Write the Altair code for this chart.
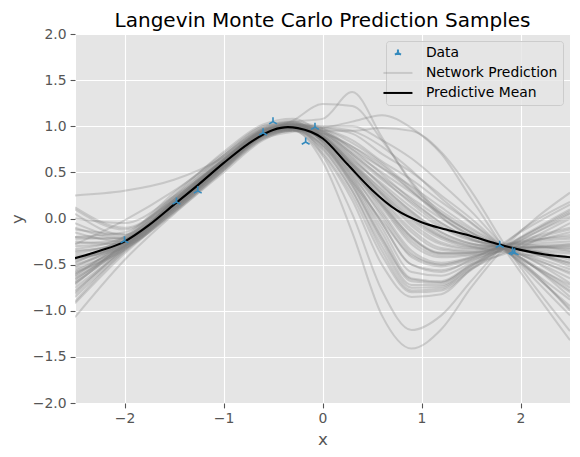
import altair as alt
import pandas as pd

# ---------------- data ----------------
data_x = [-2.0, -1.475, -1.26, -0.60, -0.50, -0.17, -0.076, 1.79, 1.92, 1.94]
data_y = [-0.24, 0.18, 0.30, 0.93, 1.05, 0.83, 0.99, -0.29, -0.36, -0.37]

mean_x = [-2.5, -2.25, -2.0, -1.75, -1.5, -1.25, -1.0, -0.75, -0.5, -0.35, -0.25,
          0.0, 0.25, 0.5, 0.75, 1.0, 1.25, 1.5, 1.75, 2.0, 2.25, 2.5]
mean_y = [-0.43, -0.35, -0.25, -0.07, 0.15, 0.37, 0.60, 0.81, 0.96, 0.99, 0.98,
          0.87, 0.59, 0.31, 0.09, -0.04, -0.12, -0.19, -0.27, -0.34, -0.39, -0.42]

sample_x = [-2.5, -2.0, -1.5, -1.0, -0.6, -0.3, 0.0, 0.3, 0.6, 0.9, 1.2, 1.5, 1.85, 2.5]
samples = [
    [-1.07, -0.45, 0.05, 0.50, 0.85, 0.96, 0.62, -0.15, -1.05, -1.41, -1.20, -0.75, -0.30, 0.28],
    [-0.90, -0.35, 0.08, 0.54, 0.88, 0.95, 0.68, 0.05, -0.78, -1.21, -1.05, -0.68, -0.27, 0.18],
    [-0.80, -0.31, 0.14, 0.60, 0.93, 0.99, 0.70, 0.20, -0.50, -0.85, -0.82, -0.55, -0.30, 0.10],
    [-0.75, -0.33, 0.10, 0.56, 0.89, 0.96, 0.75, 0.30, -0.35, -0.78, -0.76, -0.55, -0.36, 0.00],
    [-0.70, -0.30, 0.16, 0.62, 0.94, 1.00, 0.78, 0.35, -0.25, -0.72, -0.72, -0.52, -0.25, 0.15],
    [-0.65, -0.32, 0.12, 0.58, 0.90, 0.97, 0.80, 0.40, -0.15, -0.65, -0.68, -0.50, -0.38, -0.05],
    [-0.62, -0.24, 0.22, 0.68, 1.00, 1.06, 0.82, 0.42, -0.10, -0.58, -0.62, -0.48, -0.30, -0.10],
    [-0.60, -0.27, 0.18, 0.64, 0.96, 1.03, 0.84, 0.45, -0.05, -0.50, -0.58, -0.45, -0.33, -0.15],
    [-0.55, -0.30, 0.13, 0.58, 0.91, 0.97, 0.85, 0.48, 0.02, -0.42, -0.52, -0.44, -0.28, -0.20],
    [-0.50, -0.28, 0.15, 0.60, 0.92, 0.99, 0.87, 0.52, 0.08, -0.35, -0.48, -0.42, -0.31, -0.25],
    [-0.45, -0.26, 0.17, 0.63, 0.96, 1.02, 0.86, 0.50, 0.12, -0.28, -0.42, -0.40, -0.35, -0.28],
    [-0.40, -0.30, 0.10, 0.56, 0.90, 0.98, 0.88, 0.55, 0.18, -0.20, -0.38, -0.38, -0.31, -0.32],
    [-0.38, -0.22, 0.25, 0.72, 1.02, 1.08, 0.90, 0.58, 0.22, -0.12, -0.32, -0.35, -0.27, -0.35],
    [-0.35, -0.27, 0.14, 0.60, 0.93, 0.99, 0.89, 0.56, 0.25, -0.05, -0.26, -0.32, -0.33, -0.38],
    [-0.30, -0.25, 0.16, 0.62, 0.94, 1.00, 0.91, 0.62, 0.30, 0.02, -0.20, -0.30, -0.37, -0.42],
    [-0.25, -0.28, 0.12, 0.58, 0.92, 0.99, 0.92, 0.65, 0.35, 0.08, -0.15, -0.27, -0.31, -0.48],
    [-0.20, -0.22, 0.20, 0.65, 0.97, 1.04, 0.90, 0.63, 0.38, 0.12, -0.10, -0.24, -0.29, -0.52],
    [-0.15, -0.25, 0.10, 0.55, 0.90, 0.97, 0.93, 0.68, 0.42, 0.18, -0.05, -0.22, -0.34, -0.58],
    [-0.10, -0.22, 0.15, 0.58, 0.92, 1.01, 0.94, 0.70, 0.45, 0.22, 0.00, -0.18, -0.32, -0.65],
    [-0.05, -0.20, 0.18, 0.60, 0.93, 1.00, 0.95, 0.72, 0.50, 0.28, 0.05, -0.15, -0.36, -0.72],
    [0.05, -0.18, 0.12, 0.55, 0.90, 0.98, 0.96, 0.75, 0.55, 0.35, 0.12, -0.10, -0.32, -0.80],
    [0.10, -0.12, 0.22, 0.62, 0.95, 1.02, 0.97, 0.85, 0.62, 0.42, 0.18, -0.05, -0.35, -0.88],
    [0.25, 0.30, 0.42, 0.66, 0.95, 1.03, 0.98, 0.92, 0.70, 0.50, 0.25, 0.00, -0.34, -0.95],
    [-0.20, -0.15, 0.28, 0.70, 1.00, 1.05, 1.00, 1.00, 0.85, 0.65, 0.38, 0.08, -0.33, -1.05],
    [-0.58, -0.34, 0.08, 0.52, 0.86, 0.94, 0.98, 1.05, 1.12, 0.98, 0.70, 0.22, -0.35, -1.32],
    [-0.48, -0.20, 0.24, 0.68, 0.98, 1.05, 1.08, 1.37, 0.88, 0.38, 0.02, -0.20, -0.33, -0.85],
    [-0.85, -0.36, 0.06, 0.52, 0.92, 1.06, 1.24, 1.22, 0.85, 0.40, 0.05, -0.15, -0.33, -1.00],
    [-0.72, -0.26, 0.20, 0.66, 0.98, 1.04, 0.95, 0.95, 0.98, 0.95, 0.72, 0.30, -0.30, -1.22],
    [-0.42, -0.32, 0.08, 0.53, 0.87, 0.95, 0.92, 0.78, 0.58, 0.30, 0.02, -0.18, -0.31, -0.60],
    [-0.28, -0.02, 0.30, 0.68, 0.97, 1.03, 0.83, 0.40, -0.02, -0.40, -0.50, -0.42, -0.30, -0.18],
    [-0.52, -0.24, 0.18, 0.62, 0.94, 1.01, 0.88, 0.58, 0.28, 0.00, -0.20, -0.30, -0.31, -0.45],
    [-0.66, -0.29, 0.12, 0.57, 0.90, 0.98, 0.80, 0.38, -0.20, -0.68, -0.70, -0.50, -0.32, 0.05],
    [-0.33, -0.20, 0.20, 0.64, 0.96, 1.02, 0.72, 0.25, -0.40, -0.80, -0.78, -0.56, -0.31, 0.08],
    [-0.78, -0.34, 0.09, 0.55, 0.88, 0.96, 0.86, 0.52, 0.15, -0.22, -0.38, -0.37, -0.32, -0.30],
    [0.00, -0.05, 0.24, 0.63, 0.95, 1.02, 0.95, 0.75, 0.48, 0.20, -0.05, -0.22, -0.32, -0.70],
    [-0.60, -0.31, 0.11, 0.56, 0.89, 0.97, 0.90, 0.60, 0.32, 0.05, -0.18, -0.28, -0.31, -0.50],
    [-0.68, -0.28, 0.15, 0.60, 0.92, 0.99, 0.84, 0.47, 0.05, -0.38, -0.50, -0.43, -0.30, -0.22],
    [-0.47, -0.25, 0.16, 0.61, 0.93, 1.00, 0.89, 0.60, 0.26, -0.08, -0.28, -0.33, -0.32, -0.36],
    [-0.22, -0.21, 0.19, 0.62, 0.94, 1.01, 0.93, 0.70, 0.44, 0.16, -0.08, -0.23, -0.32, -0.55],
    [-0.92, -0.38, 0.07, 0.53, 0.87, 0.95, 0.79, 0.36, -0.22, -0.66, -0.69, -0.51, -0.31, 0.02],
    [-0.36, -0.24, 0.18, 0.63, 0.95, 1.02, 0.97, 0.82, 0.60, 0.33, 0.08, -0.12, -0.33, -0.78],
    [-0.57, -0.29, 0.13, 0.58, 0.91, 0.98, 0.86, 0.53, 0.14, -0.25, -0.40, -0.39, -0.31, -0.28],
    [-0.12, -0.17, 0.21, 0.64, 0.95, 1.02, 0.99, 0.95, 0.78, 0.52, 0.22, -0.04, -0.33, -0.98],
    [-0.63, -0.30, 0.12, 0.57, 0.90, 0.97, 0.76, 0.30, -0.30, -0.75, -0.74, -0.53, -0.30, 0.06],
    [-0.44, -0.27, 0.15, 0.60, 0.93, 1.00, 0.88, 0.57, 0.20, -0.15, -0.34, -0.36, -0.31, -0.33],
    [-0.82, -0.33, 0.11, 0.57, 0.90, 0.97, 0.87, 0.54, 0.16, -0.20, -0.37, -0.37, -0.32, -0.30],
    [-0.27, -0.23, 0.17, 0.61, 0.94, 1.01, 0.92, 0.66, 0.36, 0.07, -0.15, -0.27, -0.32, -0.48],
    [0.12, -0.10, 0.20, 0.60, 0.93, 1.01, 0.94, 0.78, 0.55, 0.30, 0.05, -0.15, -0.33, -0.75],
    [-0.53, -0.26, 0.17, 0.62, 0.95, 1.01, 0.83, 0.44, -0.05, -0.50, -0.56, -0.46, -0.31, -0.12],
    [-0.70, -0.31, 0.12, 0.57, 0.91, 0.98, 0.89, 0.59, 0.27, -0.02, -0.22, -0.31, -0.32, -0.42],
]

series_names = ["Data", "Network Prediction", "Predictive Mean"]
series_colors = ["#348ABD", "#808080", "black"]
x_ticks = [-2, -1, 0, 1, 2]
y_ticks = [-2.0, -1.5, -1.0, -0.5, 0.0, 0.5, 1.0, 1.5, 2.0]

# ---------------- tables ----------------
rows = []
for i, ys in enumerate(samples):
    for xv, yv in zip(sample_x, ys):
        rows.append({"curve": i, "x": xv, "y": yv, "series": "Network Prediction"})
lines_df = pd.DataFrame(rows)
mean_df = pd.DataFrame({"x": mean_x, "y": mean_y, "series": "Predictive Mean"})
pts_df = pd.DataFrame({"x": data_x, "y": data_y, "series": "Data"})

FONT = "DejaVu Sans"
TRI = "M0,0L0,-1M0,0L-0.866,0.5M0,0L0.866,0.5"
TRI_SMALL = "M0,0L0,-0.7M0,0L-0.606,0.35M0,0L0.606,0.35"
LINE_PATH = "M-2.9,0L2.9,0"

legend = alt.Legend(
    title=None, orient="top-right", offset=7, padding=5,
    fillColor="rgba(229,229,229,0.8)", strokeColor="#cccccc", cornerRadius=3,
    labelFont=FONT, labelFontSize=13.9, labelColor="black",
    symbolSize=100, symbolOffset=0, labelOffset=21, rowPadding=5,
    symbolStrokeWidth=2,
    symbolType={"expr": "datum.value === 'Data' ? '" + TRI_SMALL + "' : '" + LINE_PATH + "'"},
    symbolOpacity={"expr": "datum.value === 'Network Prediction' ? 0.28 : 1"},
)

color = alt.Color("series:N", scale=alt.Scale(domain=series_names, range=series_colors),
                  legend=legend)
xenc = alt.X("x:Q", scale=alt.Scale(domain=[-2.5, 2.5], nice=False, zero=False),
             axis=alt.Axis(values=x_ticks, title="x", format="d"))
yenc = alt.Y("y:Q", scale=alt.Scale(domain=[-2, 2], nice=False, zero=False),
             axis=alt.Axis(values=y_ticks, title="y", format=".1f"))

lines = alt.Chart(lines_df).mark_line(
    interpolate="monotone", opacity=0.3, strokeWidth=2, clip=True
).encode(x=xenc, y=yenc, color=color, detail="curve:N")

mean = alt.Chart(mean_df).mark_line(
    interpolate="monotone", strokeWidth=2.1, clip=True
).encode(x=xenc, y=yenc, color=color)

pts = alt.Chart(pts_df).mark_point(
    shape=TRI, filled=False, size=81, strokeWidth=1.6, opacity=1
).encode(x=xenc, y=yenc, color=color)

chart = alt.layer(lines, mean, pts).properties(
    width=495, height=369,
    autosize=alt.AutoSizeParams(type="none"),
    padding={"left": 67, "top": 26, "right": 2, "bottom": 46},
    title=alt.TitleParams("Langevin Monte Carlo Prediction Samples", font=FONT,
                          fontSize=20, fontWeight="normal", color="black",
                          anchor="middle", offset=-4),
).configure_view(
    fill="#E5E5E5", stroke="white", strokeWidth=1
).configure_axis(
    grid=True, gridColor="white", gridWidth=1.1, domain=False,
    tickColor="#555555", tickSize=4.9, tickWidth=1.1,
    labelColor="#555555", labelFont=FONT, labelFontSize=13.9, labelPadding=4,
    titleColor="#555555", titleFont=FONT, titleFontSize=16.7, titleFontWeight="normal",
    titlePadding=6,
)

chart.save("out.html", embed_options={"renderer": "svg", "actions": False})
